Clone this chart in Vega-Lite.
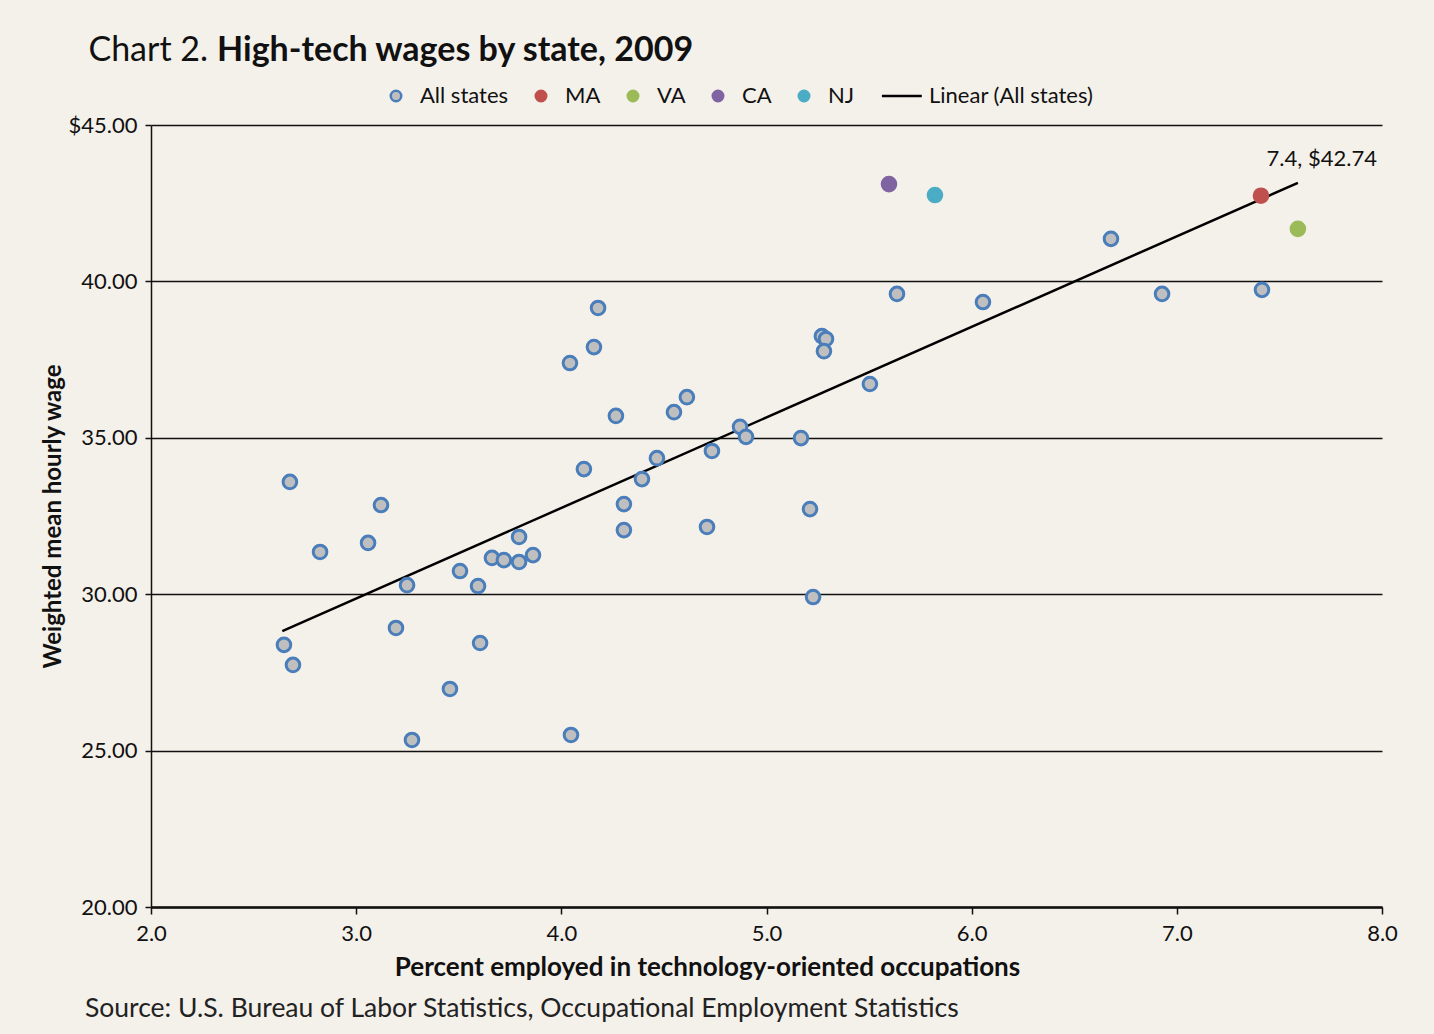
{
  "$schema": "https://vega.github.io/schema/vega-lite/v6.json",
  "width": 1231,
  "height": 782,
  "autosize": {"type": "none"},
  "padding": {"left": 151, "top": 125, "right": 52, "bottom": 127},
  "background": "#f4f0ea",
  "title": {
    "text": "Source:  U.S. Bureau of Labor Statistics, Occupational Employment Statistics",
    "orient": "bottom",
    "anchor": "start",
    "frame": "group",
    "dx": -66,
    "offset": 16,
    "font": "Lato",
    "fontSize": 26.5,
    "fontWeight": "normal",
    "color": "#222222"
  },
  "config": {
    "view": {"stroke": null},
    "font": "Lato",
    "axis": {
      "labelFont": "Lato",
      "labelFontSize": 22,
      "labelColor": "#111111",
      "labelFlush": false,
      "titleFont": "Lato",
      "titleFontWeight": "bold",
      "titleColor": "#111111",
      "domainColor": "#111111",
      "tickColor": "#111111"
    },
    "legend": {
      "orient": "none",
      "direction": "horizontal",
      "legendX": 234,
      "legendY": -40,
      "title": null,
      "labelFont": "Lato",
      "labelFontSize": 22,
      "labelColor": "#111111",
      "labelLimit": 400,
      "symbolSize": 110,
      "symbolStrokeWidth": 2.5,
      "labelOffset": 13,
      "columnPadding": 21
    }
  },
  "datasets": {
    "states": [
      {"pct": 2.677, "wage": 33.59, "series": "All states"},
      {"pct": 2.824, "wage": 31.35, "series": "All states"},
      {"pct": 2.648, "wage": 28.38, "series": "All states"},
      {"pct": 2.692, "wage": 27.74, "series": "All states"},
      {"pct": 3.058, "wage": 31.64, "series": "All states"},
      {"pct": 3.121, "wage": 32.85, "series": "All states"},
      {"pct": 3.194, "wage": 28.92, "series": "All states"},
      {"pct": 3.248, "wage": 30.29, "series": "All states"},
      {"pct": 3.272, "wage": 25.34, "series": "All states"},
      {"pct": 3.457, "wage": 26.97, "series": "All states"},
      {"pct": 3.506, "wage": 30.74, "series": "All states"},
      {"pct": 3.594, "wage": 30.26, "series": "All states"},
      {"pct": 3.604, "wage": 28.44, "series": "All states"},
      {"pct": 3.662, "wage": 31.16, "series": "All states"},
      {"pct": 3.72, "wage": 31.09, "series": "All states"},
      {"pct": 3.794, "wage": 31.83, "series": "All states"},
      {"pct": 3.794, "wage": 31.03, "series": "All states"},
      {"pct": 3.862, "wage": 31.25, "series": "All states"},
      {"pct": 4.042, "wage": 37.39, "series": "All states"},
      {"pct": 4.047, "wage": 25.5, "series": "All states"},
      {"pct": 4.11, "wage": 34.0, "series": "All states"},
      {"pct": 4.159, "wage": 37.9, "series": "All states"},
      {"pct": 4.179, "wage": 39.15, "series": "All states"},
      {"pct": 4.266, "wage": 35.7, "series": "All states"},
      {"pct": 4.305, "wage": 32.88, "series": "All states"},
      {"pct": 4.305, "wage": 32.05, "series": "All states"},
      {"pct": 4.393, "wage": 33.68, "series": "All states"},
      {"pct": 4.466, "wage": 34.35, "series": "All states"},
      {"pct": 4.549, "wage": 35.82, "series": "All states"},
      {"pct": 4.612, "wage": 36.3, "series": "All states"},
      {"pct": 4.71, "wage": 32.15, "series": "All states"},
      {"pct": 4.734, "wage": 34.58, "series": "All states"},
      {"pct": 4.871, "wage": 35.35, "series": "All states"},
      {"pct": 4.9, "wage": 35.03, "series": "All states"},
      {"pct": 5.168, "wage": 34.99, "series": "All states"},
      {"pct": 5.212, "wage": 32.72, "series": "All states"},
      {"pct": 5.227, "wage": 29.91, "series": "All states"},
      {"pct": 5.27, "wage": 38.25, "series": "All states"},
      {"pct": 5.29, "wage": 38.16, "series": "All states"},
      {"pct": 5.28, "wage": 37.77, "series": "All states"},
      {"pct": 5.504, "wage": 36.72, "series": "All states"},
      {"pct": 5.636, "wage": 39.6, "series": "All states"},
      {"pct": 6.055, "wage": 39.34, "series": "All states"},
      {"pct": 6.679, "wage": 41.36, "series": "All states"},
      {"pct": 6.928, "wage": 39.6, "series": "All states"},
      {"pct": 7.415, "wage": 39.73, "series": "All states"},
      {"pct": 7.41, "wage": 42.74, "series": "MA", "label": "7.4, $42.74"},
      {"pct": 7.59, "wage": 41.68, "series": "VA"},
      {"pct": 5.597, "wage": 43.11, "series": "CA"},
      {"pct": 5.821, "wage": 42.76, "series": "NJ"}
    ],
    "trend": [
      {"pct": 2.64, "wage": 28.82, "series": "Linear (All states)"},
      {"pct": 7.59, "wage": 43.15, "series": "Linear (All states)"}
    ],
    "heading": [
      {"pct": 2.278, "wage": 47.05, "part": "Chart 2."},
      {"pct": 2.322, "wage": 47.05, "part": "High-tech wages by state, 2009"}
    ]
  },
  "layer": [
    {
      "data": {"name": "trend"},
      "mark": {"type": "line", "strokeWidth": 2.5},
      "encoding": {
        "x": {
          "field": "pct",
          "type": "quantitative",
          "scale": {"domain": [2, 8], "nice": false, "zero": false},
          "axis": {
            "values": [2, 3, 4, 5, 6, 7, 8],
            "format": ".1f",
            "grid": false,
            "domainWidth": 2.5,
            "tickSize": 7,
            "tickWidth": 1.5,
            "labelPadding": 9,
            "title": "Percent employed in technology-oriented occupations",
            "titleFontSize": 26,
            "titlePadding": 10,
            "titleX": 556
          }
        },
        "y": {
          "field": "wage",
          "type": "quantitative",
          "scale": {"domain": [20, 45], "nice": false, "zero": false},
          "axis": {
            "values": [20, 25, 30, 35, 40, 45],
            "labelExpr": "datum.value == 45 ? '$45.00' : format(datum.value, '.2f')",
            "grid": true,
            "gridColor": "#111111",
            "gridWidth": 1.5,
            "domainWidth": 1.5,
            "tickSize": 6,
            "tickWidth": 1.5,
            "labelPadding": 8,
            "title": "Weighted  mean hourly wage",
            "titleFontSize": 24,
            "titlePadding": 3
          }
        },
        "stroke": {
          "field": "series",
          "type": "nominal",
          "scale": {
            "domain": ["All states", "MA", "VA", "CA", "NJ", "Linear (All states)"],
            "range": ["#4a7ebb", "#c0504d", "#9bbb59", "#8064a2", "#4bacc6", "#000000"]
          }
        }
      }
    },
    {
      "data": {"name": "states"},
      "mark": {"type": "point", "size": 185, "strokeWidth": 3, "opacity": 1, "fillOpacity": 1},
      "encoding": {
        "x": {"field": "pct", "type": "quantitative"},
        "y": {"field": "wage", "type": "quantitative"},
        "fill": {
          "field": "series",
          "type": "nominal",
          "scale": {
            "domain": ["All states", "MA", "VA", "CA", "NJ", "Linear (All states)"],
            "range": ["#bfbfbf", "#c0504d", "#9bbb59", "#8064a2", "#4bacc6", "#000000"]
          }
        },
        "stroke": {"field": "series", "type": "nominal"},
        "shape": {
          "field": "series",
          "type": "nominal",
          "scale": {
            "domain": ["All states", "MA", "VA", "CA", "NJ", "Linear (All states)"],
            "range": ["circle", "circle", "circle", "circle", "circle", "M-4.4,0L3.2,0"]
          }
        }
      }
    },
    {
      "data": {"name": "states"},
      "transform": [{"filter": "datum.label"}],
      "mark": {"type": "text", "align": "right", "baseline": "alphabetic", "dx": 116, "dy": -30, "font": "Lato", "fontSize": 22, "color": "#111111"},
      "encoding": {
        "x": {"field": "pct", "type": "quantitative"},
        "y": {"field": "wage", "type": "quantitative"},
        "text": {"field": "label"}
      }
    },
    {
      "data": {"name": "heading"},
      "transform": [{"filter": "datum.part == 'Chart 2.'"}],
      "mark": {"type": "text", "align": "right", "baseline": "alphabetic", "font": "Lato", "fontSize": 34, "fontWeight": "normal", "color": "#111111"},
      "encoding": {
        "x": {"field": "pct", "type": "quantitative"},
        "y": {"field": "wage", "type": "quantitative"},
        "text": {"field": "part"}
      }
    },
    {
      "data": {"name": "heading"},
      "transform": [{"filter": "datum.part != 'Chart 2.'"}],
      "mark": {"type": "text", "align": "left", "baseline": "alphabetic", "font": "Lato", "fontSize": 34, "fontWeight": "bold", "color": "#111111"},
      "encoding": {
        "x": {"field": "pct", "type": "quantitative"},
        "y": {"field": "wage", "type": "quantitative"},
        "text": {"field": "part"}
      }
    }
  ]
}
